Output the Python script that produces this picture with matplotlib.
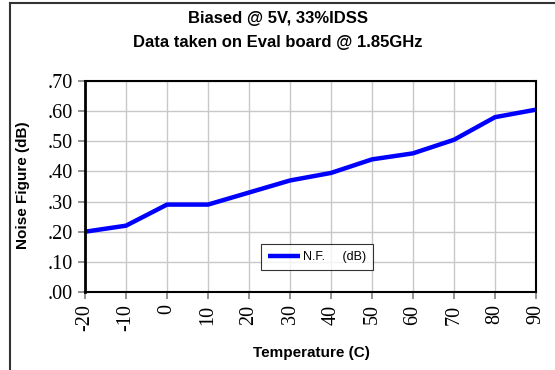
import matplotlib.pyplot as plt
from matplotlib.lines import Line2D

# noise figure vs temperature
temps = [-20, -10, 0, 10, 20, 30, 40, 50, 60, 70, 80, 90]
nf_db = [0.20, 0.22, 0.29, 0.29, 0.33, 0.37, 0.395, 0.44, 0.46, 0.505, 0.58, 0.605]
yticks = [0.0, 0.1, 0.2, 0.3, 0.4, 0.5, 0.6, 0.7]
ytick_labels = [".00", ".10", ".20", ".30", ".40", ".50", ".60", ".70"]

fig = plt.figure(figsize=(5.55, 3.70), dpi=100)

# outer frame (left and top edges)
fig.add_artist(Line2D([9.5 / 555, 9.5 / 555], [0, 1 - 3 / 370], color="#333333", lw=1.5))
fig.add_artist(Line2D([9.5 / 555, 1], [1 - 3 / 370, 1 - 3 / 370], color="#333333", lw=1.5))

ax = fig.add_axes([85 / 555, 1 - 292 / 370, (536 - 85) / 555, (292 - 81) / 370])
ax.plot(temps, nf_db, color="#0000ff", lw=3.2, label="N.F.     (dB)", solid_capstyle="butt")

ax.set_xlim(-20, 90)
ax.set_ylim(0, 0.70)
ax.set_xticks(temps)
ax.set_xticklabels([str(t) for t in temps], rotation=90, family="Liberation Serif", fontsize=14.5)
ax.set_yticks(yticks)
ax.set_yticklabels(ytick_labels, family="Liberation Serif", fontsize=14.5)
ax.tick_params(direction="out", length=5, width=1.2, color="#808080", pad=4)

ax.grid(True, color="#c8c8c8", lw=1)
ax.set_axisbelow(True)
for side in ["top", "right", "bottom"]:
    ax.spines[side].set_linewidth(1.5)
ax.spines["left"].set_linewidth(2)

# axis titles
fig.text(23 / 555, 1 - 185 / 370, "Noise Figure (dB)", rotation=90, ha="center", va="center",
         family="Liberation Sans", fontweight="bold", fontsize=11)
fig.text(311 / 555, 1 - 353 / 370, "Temperature (C)", ha="center", va="center",
         family="Liberation Sans", fontweight="bold", fontsize=11)

fig.text(0.5, 1 - 18 / 370, "Biased @ 5V, 33%IDSS", ha="center", va="center",
         family="Liberation Sans", fontweight="bold", fontsize=12)
fig.text(0.5, 1 - 42 / 370, "Data taken on Eval board @ 1.85GHz", ha="center", va="center",
         family="Liberation Sans", fontweight="bold", fontsize=12)

leg = ax.legend(loc="center", bbox_to_anchor=((317 - 85) / 451, (292 - 257) / 211),
                prop={"family": "Liberation Sans", "size": 9}, frameon=True, fancybox=False,
                handlelength=2.6, handletextpad=0.2, borderpad=0.55, borderaxespad=0)
leg.get_frame().set_edgecolor("black")
leg.get_frame().set_linewidth(0.8)

fig.savefig("out.png", dpi=100)
